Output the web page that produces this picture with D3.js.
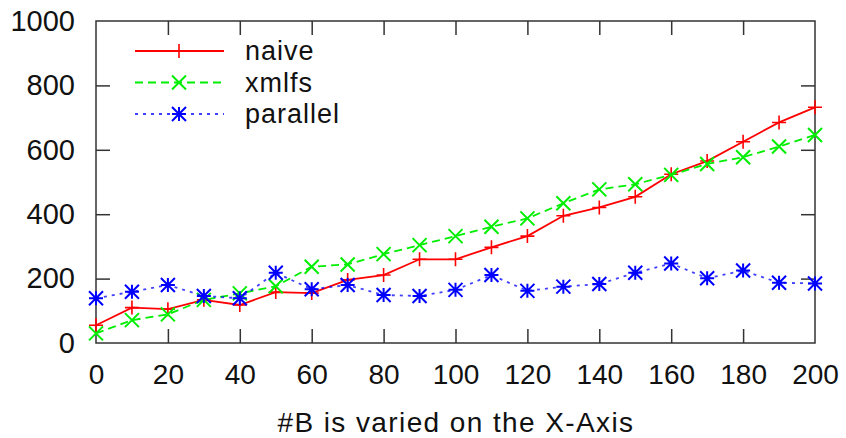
<!DOCTYPE html>
<html><head><meta charset="utf-8">
<script src="https://cdn.jsdelivr.net/npm/d3@7"></script>
<style>body{margin:0;background:#fff}svg{display:block}text{font-family:"Liberation Sans",Arial,sans-serif;fill:#111}</style>
</head><body><svg id="c" width="846" height="438"></svg>
<script>
const xs = [0,10,20,30,40,50,60,70,80,90,100,110,120,130,140,150,160,170,180,190,200];
const naive = [55,110,105,134,118,158,155,196,211,260,260,297,332,395,421,454,524,565,625,685,732];
const xmlfs = [30,71,89,134,154,176,237,244,276,304,332,361,387,434,477,493,522,556,577,610,646];
const parallel = [139,159,180,146,139,218,167,180,149,146,165,211,162,175,183,218,247,201,225,187,185];
const xTicks = [0,20,40,60,80,100,120,140,160,180,200];
const yTicks = [0,200,400,600,800,1000];
const xTitle = "#B is varied on the X-Axis";
const seriesNames = ["naive","xmlfs","parallel"];

const svg = d3.select("#c");
const L=96,R=815,T=21,B=343;
const x = d3.scaleLinear().domain([0,200]).range([L,R]);
const y = d3.scaleLinear().domain([0,1000]).range([B,T]);
const axisColor="#333";
const ff="Liberation Sans, Arial, sans-serif";

svg.append("rect").attr("x",L).attr("y",T).attr("width",R-L).attr("height",B-T)
  .attr("fill","none").attr("stroke",axisColor).attr("stroke-width",1.5);

const tl=14;
const gx = svg.append("g").attr("transform",`translate(0,${B})`)
  .call(d3.axisBottom(x).tickValues(xTicks).tickFormat(d3.format("d")).tickSizeInner(-tl).tickSizeOuter(0).tickPadding(21));
const gxt = svg.append("g").attr("transform",`translate(0,${T})`)
  .call(d3.axisTop(x).tickValues(xTicks).tickSizeInner(-tl).tickSizeOuter(0).tickFormat(""));
const gy = svg.append("g").attr("transform",`translate(${L},0)`)
  .call(d3.axisLeft(y).tickValues(yTicks).tickFormat(d3.format("d")).tickSizeInner(-tl).tickSizeOuter(0).tickPadding(21));
const gyr = svg.append("g").attr("transform",`translate(${R},0)`)
  .call(d3.axisRight(y).tickValues(yTicks).tickSizeInner(-tl).tickSizeOuter(0).tickFormat(""));
[gx,gxt,gy,gyr].forEach(g=>{g.select(".domain").remove();
  g.selectAll(".tick line").attr("stroke",axisColor).attr("stroke-width",1.5);});
gx.selectAll(".tick text").attr("font-size",28).attr("fill","#111").style("font-family",ff);
gy.selectAll(".tick text").attr("font-size",29).attr("fill","#111").style("font-family",ff);
gx.selectAll(".tick line").filter(d=>d===0||d===200).remove();
gxt.selectAll(".tick line").filter(d=>d===0||d===200).remove();
gy.selectAll(".tick line").filter(d=>d===0||d===1000).remove();
gyr.selectAll(".tick line").filter(d=>d===0||d===1000).remove();

svg.append("text").attr("x",456).attr("y",432).attr("text-anchor","middle")
  .attr("font-size",28).attr("letter-spacing",1.4).text(xTitle);

const cfg = [
  {name:seriesNames[0], data:naive, color:"#ff0000", dash:null, marker:"plus"},
  {name:seriesNames[1], data:xmlfs, color:"#00ee00", dash:"8,5", marker:"cross"},
  {name:seriesNames[2], data:parallel, color:"#0000ff", dash:"3,5", marker:"star"}
];
const s=7;
function marker(g,type,cx,cy,color){
  const p = d3.path();
  if(type==="plus"||type==="star"){p.moveTo(cx-s,cy);p.lineTo(cx+s,cy);p.moveTo(cx,cy-s);p.lineTo(cx,cy+s);}
  if(type==="cross"||type==="star"){p.moveTo(cx-s,cy-s);p.lineTo(cx+s,cy+s);p.moveTo(cx-s,cy+s);p.lineTo(cx+s,cy-s);}
  g.append("path").attr("d",p.toString()).attr("stroke",color).attr("stroke-width",type==="plus"?1.6:2).attr("fill","none");
}
const line = d3.line().x((d,i)=>x(xs[i])).y(d=>y(d));
cfg.forEach((c,k)=>{
  const g = svg.append("g");
  g.append("path").datum(c.data).attr("d",line).attr("fill","none")
   .attr("stroke",c.color).attr("stroke-width",1.8).attr("stroke-dasharray",c.dash)
   .attr("opacity",k===2?0.75:1);
  c.data.forEach((v,i)=>marker(g,c.marker,x(xs[i]),y(v),c.color));
  const ly = 51 + k*31.5;
  g.append("line").attr("x1",135).attr("x2",224).attr("y1",ly).attr("y2",ly)
   .attr("stroke",c.color).attr("stroke-width",1.8).attr("stroke-dasharray",c.dash).attr("opacity",k===2?0.75:1);
  marker(g,c.marker,179,ly,c.color);
  g.append("text").attr("x",245).attr("y",ly+9).attr("font-size",27).attr("letter-spacing",1).text(c.name);
});
</script></body></html>
